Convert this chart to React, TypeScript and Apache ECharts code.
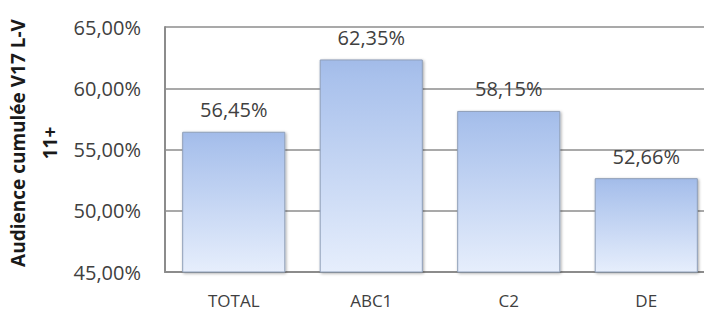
import React, { useEffect, useRef } from "react";
import * as echarts from "echarts";

const categories = ["TOTAL", "ABC1", "C2", "DE"];
const values = [56.45, 62.35, 58.15, 52.66];
const yMin = 45;
const yMax = 65;
const yStep = 5;
const yAxisTitle = "Audience cumulée V17 L-V\n11+";

const fmt = (v: number) => v.toFixed(2).replace(".", ",") + "%";

export default function App() {
  const ref = useRef<HTMLDivElement>(null);
  useEffect(() => {
    if (!ref.current) return;
    const chart = echarts.init(ref.current, undefined, { renderer: "svg" });
    const font = "'Open Sans', 'Noto Sans', sans-serif";
    chart.setOption({
      animation: false,
      backgroundColor: "#ffffff",
      grid: {
        left: 165,
        top: 27,
        bottom: 41,
        right: -11,
        containLabel: false,
        outerBoundsMode: "none",
      },
      graphic: [
        {
          type: "text",
          x: 34,
          y: 143,
          rotation: Math.PI / 2,
          style: {
            text: yAxisTitle,
            fill: "#1a1a1a",
            font: `bold 19px ${font}`,
            textAlign: "center",
            textVerticalAlign: "middle",
            verticalAlign: "middle",
            lineHeight: 32,
          },
        },
      ],
      xAxis: {
        type: "category",
        data: categories,
        axisLine: { show: true, lineStyle: { color: "#8c8c8c", width: 2 } },
        axisTick: { show: false },
        axisLabel: {
          color: "#404040",
          fontSize: 17,
          lineHeight: 17,
          fontFamily: font,
          margin: 20,
        },
      },
      yAxis: {
        type: "value",
        min: yMin,
        max: yMax,
        interval: yStep,
        axisLine: { show: true, lineStyle: { color: "#8c8c8c", width: 2 } },
        axisTick: { show: false },
        splitLine: { show: true, lineStyle: { color: "#8c8c8c", width: 1.5 } },
        axisLabel: {
          color: "#404040",
          fontSize: 20,
          fontFamily: font,
          margin: 24,
          formatter: (v: number) => fmt(v),
        },
      },
      series: [
        {
          type: "bar",
          data: values,
          barWidth: "75%",
          itemStyle: {
            color: new echarts.graphic.LinearGradient(0, 0, 0, 1, [
              { offset: 0, color: "#a2bbe8" },
              { offset: 0.08, color: "#a9c1ec" },
              { offset: 1, color: "#e6eefc" },
            ]),
            borderColor: "#8f9fb8",
            borderWidth: 1,
            shadowBlur: 3,
            shadowColor: "rgba(0,0,0,0.35)",
            shadowOffsetX: 1,
            shadowOffsetY: 1,
          },
          label: {
            show: true,
            position: "top",
            distance: 12,
            color: "#404040",
            fontSize: 20,
            fontFamily: font,
            formatter: (p: any) => fmt(p.value),
          },
        },
      ],
    });
    return () => chart.dispose();
  }, []);
  return (
    <div
      ref={ref}
      style={{ position: "absolute", left: 0, top: 0, width: 704, height: 313 }}
    />
  );
}
